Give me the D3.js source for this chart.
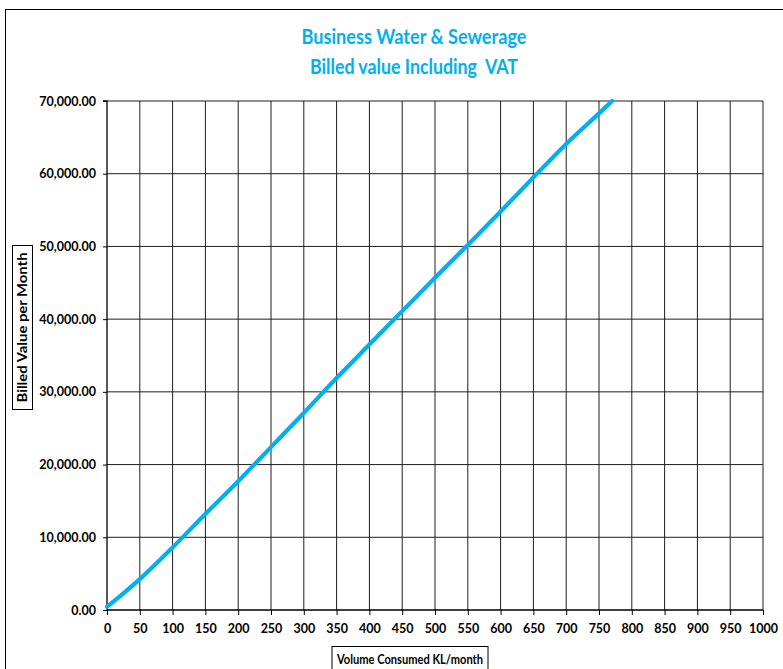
<!DOCTYPE html>
<html>
<head>
<meta charset="utf-8">
<script src="https://cdn.jsdelivr.net/npm/d3@7"></script>
<style>
  body { margin: 0; background: #fff; }
  svg { display: block; }
</style>
</head>
<body>
<div id="chart"></div>
<script>
;(function () {
  // values
  const volume = [0, 25, 50, 100, 150, 200, 250, 300, 350, 400, 450, 500, 550, 600, 650, 700, 750, 770]
  const billed = [450, 2300, 4250, 8600, 13200, 17700, 22400, 27100, 31900, 36500, 41100, 45700, 50200, 54800, 59500, 64100, 68300, 70000]

  const xTicks = d3.range(0, 1001, 50)
  const yTicks = d3.range(0, 70001, 10000)
  const titleLines = ["Business Water & Sewerage", "Billed value Including  VAT"]
  const xTitle = "Volume Consumed KL/month"
  const yTitle = "Billed Value per Month"

  const width = 783
  const height = 669
  const font = "Lato, 'Open Sans', sans-serif"
  const blue = "#00b0f0"

  const svg = d3.select("#chart").append("svg").attr("width", width).attr("height", height)

  // outer chart border (runs off the right and bottom of the picture)
  svg.append("rect")
    .attr("x", 5.5).attr("y", 9.5)
    .attr("width", 800).attr("height", 700)
    .attr("fill", "none").attr("stroke", "#000").attr("stroke-width", 1)

  const x = d3.scaleLinear().domain([0, 1000]).range([107, 763])
  const y = d3.scaleLinear().domain([0, 70000]).range([610, 101])

  // gridlines
  svg.append("g")
    .selectAll("line")
    .data(xTicks.slice(1))
    .join("line")
    .attr("x1", d => x(d)).attr("x2", d => x(d))
    .attr("y1", y(70000)).attr("y2", y(0))
    .attr("stroke", "#1e1e1e").attr("stroke-width", 1)

  svg.append("g")
    .selectAll("line")
    .data(yTicks.slice(1))
    .join("line")
    .attr("x1", x(0)).attr("x2", x(1000))
    .attr("y1", d => y(d)).attr("y2", d => y(d))
    .attr("stroke", "#1e1e1e").attr("stroke-width", 1)

  // axes
  const xAxis = svg.append("g")
    .attr("transform", `translate(0,${y(0)})`)
    .call(d3.axisBottom(x).tickValues(xTicks).tickSize(5).tickPadding(9).tickFormat(d3.format("d")))
  const yAxis = svg.append("g")
    .attr("transform", `translate(${x(0)},0)`)
    .call(d3.axisLeft(y).tickValues(yTicks).tickSize(4).tickPadding(7).tickFormat(d3.format(",.2f")))

  ;[xAxis, yAxis].forEach(a => {
    a.select(".domain").attr("stroke", "#000").attr("stroke-width", 1.3)
    a.selectAll(".tick line").attr("stroke", "#000")
    a.selectAll("text")
      .attr("fill", "#000")
      .style("font-family", font)
      .style("font-weight", "bold")
      .style("font-size", "12.5px")
  })
  yAxis.select(".domain").attr("d", `M-4,${y(70000)}H0V${y(0)}`)
  xAxis.select(".domain").attr("d", `M${x(0)},0H${x(1000)}`)

  // the billed line
  const line = d3.line().x((d, i) => x(volume[i])).y(d => y(d)).curve(d3.curveMonotoneX)
  svg.append("path")
    .datum(billed)
    .attr("d", line)
    .attr("fill", "none")
    .attr("stroke", blue)
    .attr("stroke-width", 4.2)
    .attr("stroke-linejoin", "round")
    .attr("stroke-linecap", "round")

  // title
  svg.append("g")
    .selectAll("text")
    .data(titleLines)
    .join("text")
    .attr("x", 414)
    .attr("y", (d, i) => 44 + i * 30)
    .attr("text-anchor", "middle")
    .attr("fill", blue)
    .attr("textLength", (d, i) => i === 0 ? 225 : 208)
    .attr("lengthAdjust", "spacingAndGlyphs")
    .style("font-family", font)
    .style("font-weight", "bold")
    .style("font-size", "21px")
    .style("white-space", "pre")
    .text(d => d)

  // x axis title in a box
  svg.append("rect")
    .attr("x", 332).attr("y", 646.5).attr("width", 156).attr("height", 30)
    .attr("fill", "#fff").attr("stroke", "#000").attr("stroke-width", 1)
  svg.append("text")
    .attr("x", 410).attr("y", 664)
    .attr("text-anchor", "middle")
    .attr("textLength", 146)
    .attr("lengthAdjust", "spacingAndGlyphs")
    .style("font-family", font)
    .style("font-weight", "bold")
    .style("font-size", "13px")
    .text(xTitle)

  // y axis title in a box
  svg.append("rect")
    .attr("x", 12.5).attr("y", 245.5).attr("width", 20).attr("height", 164)
    .attr("fill", "#fff").attr("stroke", "#000").attr("stroke-width", 1)
  svg.append("text")
    .attr("transform", "translate(27,327.5) rotate(-90)")
    .attr("text-anchor", "middle")
    .attr("textLength", 150)
    .attr("lengthAdjust", "spacingAndGlyphs")
    .style("font-family", font)
    .style("font-weight", "bold")
    .style("font-size", "13px")
    .text(yTitle)
})()
</script>
</body>
</html>
